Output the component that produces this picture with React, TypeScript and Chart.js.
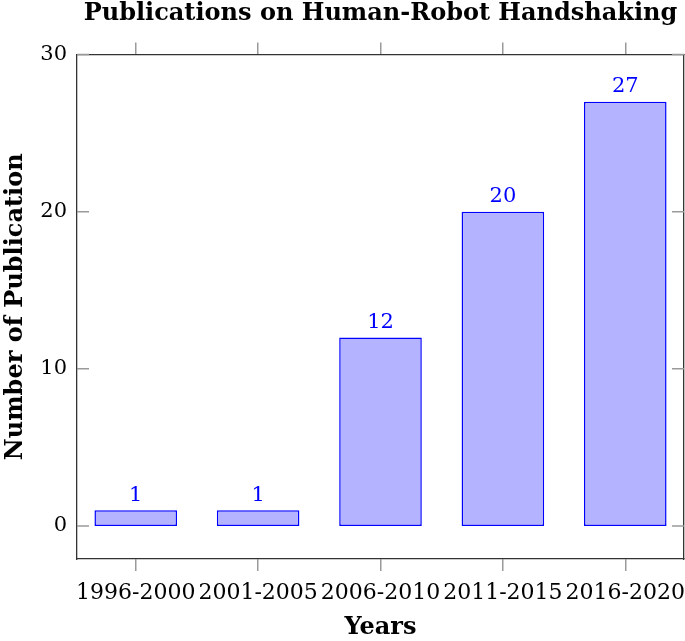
import React, { useEffect, useRef } from "react";
import { Chart, registerables } from "chart.js";

Chart.register(...registerables);

const categories = ["1996-2000", "2001-2005", "2006-2010", "2011-2015", "2016-2020"];
const publications = [1, 1, 12, 20, 27];
const yTicks = [0, 10, 20, 30];
const chartTitle = "Publications on Human-Robot Handshaking";
const xTitle = "Years";
const yTitle = "Number of Publication";

const SERIF = "'DejaVu Serif', serif";
const AXIS_COLOR = "#333333";
const TICK_COLOR = "#9a9a9a";

const X_MIN = -0.48;
const X_MAX = categories.length - 1 + 0.48;
const Y_MIN = -2.1;
const Y_MAX = 30;

const categoryTicks = () => categories.map((_, i) => ({ value: i }));
const valueTicks = () => yTicks.map((v) => ({ value: v }));

export default function App() {
  const ref = useRef<HTMLCanvasElement | null>(null);

  useEffect(() => {
    document.body.style.margin = "0";
    const canvas = ref.current;
    if (!canvas) return;

    const overlay = {
      id: "overlay",
      afterDatasetsDraw(chart: any) {
        const { ctx, chartArea, scales } = chart;
        ctx.save();
        ctx.strokeStyle = TICK_COLOR;
        ctx.lineWidth = 1.5;
        yTicks.forEach((v) => {
          const y = scales.y.getPixelForValue(v);
          ctx.beginPath();
          ctx.moveTo(chartArea.left, y);
          ctx.lineTo(chartArea.left + 12, y);
          ctx.moveTo(chartArea.right, y);
          ctx.lineTo(chartArea.right - 12, y);
          ctx.stroke();
        });
        const meta = chart.getDatasetMeta(0);
        ctx.fillStyle = "#0000ff";
        ctx.font = `21px ${SERIF}`;
        ctx.textAlign = "center";
        ctx.textBaseline = "middle";
        meta.data.forEach((bar: any, i: number) => {
          ctx.fillText(String(publications[i]), bar.x, bar.y - 15);
        });
        ctx.fillStyle = "#000000";
        ctx.font = `bold 24px ${SERIF}`;
        ctx.fillText(chartTitle, (chartArea.left + chartArea.right) / 2, 14);
        ctx.restore();
      },
    };

    const chart = new Chart(canvas, {
      type: "bar",
      data: {
        datasets: [
          {
            data: publications.map((v, i) => ({ x: i, y: v })),
            backgroundColor: "rgb(179,179,255)",
            borderColor: "#0000ff",
            borderWidth: 1.5,
            borderSkipped: false,
            barPercentage: 0.675,
            categoryPercentage: 1,
          },
        ],
      },
      options: {
        responsive: false,
        animation: false,
        layout: { padding: { top: 27, right: 1, left: 0, bottom: 0 } },
        plugins: { legend: { display: false }, tooltip: { enabled: false }, title: { display: false } },
        scales: {
          x: {
            type: "linear",
            position: "bottom",
            min: X_MIN,
            max: X_MAX,
            bounds: "data",
            offset: false,
            afterBuildTicks: (s: any) => { s.ticks = categoryTicks(); },
            afterFit: (s: any) => { s.height = 82; s.paddingLeft = 0; s.paddingRight = 0; },
            ticks: {
              autoSkip: false,
              maxRotation: 0,
              minRotation: 0,
              padding: 9,
              color: "#000",
              font: { family: SERIF, size: 22 },
              callback: (v: any) => categories[Math.round(v)] ?? "",
            },
            grid: { offset: false, drawOnChartArea: false, tickLength: 12, color: TICK_COLOR, lineWidth: 1.5 },
            border: { display: true, color: AXIS_COLOR, width: 1.3 },
            title: {
              display: true,
              text: xTitle,
              color: "#000",
              font: { family: SERIF, size: 24, weight: "bold" },
              padding: { top: 0, bottom: -1 },
            },
          },
          x2: {
            type: "linear",
            position: "top",
            min: X_MIN,
            max: X_MAX,
            bounds: "data",
            offset: false,
            afterBuildTicks: (s: any) => { s.ticks = categoryTicks(); },
            afterFit: (s: any) => { s.height = 27.5; s.paddingLeft = 0; s.paddingRight = 0; },
            ticks: { display: false },
            grid: { offset: false, drawOnChartArea: false, tickLength: 12, color: TICK_COLOR, lineWidth: 1.5 },
            border: { display: true, color: AXIS_COLOR, width: 1.3 },
          },
          y: {
            type: "linear",
            position: "left",
            min: Y_MIN,
            max: Y_MAX,
            bounds: "data",
            afterBuildTicks: (s: any) => { s.ticks = valueTicks(); },
            afterFit: (s: any) => { s.width = 77; s.paddingTop = 0; s.paddingBottom = 0; },
            ticks: {
              padding: 10,
              color: "#000",
              font: { family: SERIF, size: 21 },
            },
            grid: { display: false, drawTicks: false, tickLength: 0 },
            border: { display: true, color: AXIS_COLOR, width: 1.3 },
            title: {
              display: true,
              text: yTitle,
              color: "#000",
              font: { family: SERIF, size: 24, weight: "bold" },
              padding: { top: 1, bottom: 0 },
            },
          },
          y2: {
            type: "linear",
            position: "right",
            min: Y_MIN,
            max: Y_MAX,
            bounds: "data",
            afterFit: (s: any) => { s.width = 0; s.paddingTop = 0; s.paddingBottom = 0; },
            ticks: { display: false },
            grid: { display: false },
            border: { display: true, color: AXIS_COLOR, width: 1.3 },
          },
        },
      },
      plugins: [overlay],
    } as any);

    return () => chart.destroy();
  }, []);

  return (
    <div style={{ width: 685, height: 641 }}>
      <canvas ref={ref} width={685} height={641} />
    </div>
  );
}
